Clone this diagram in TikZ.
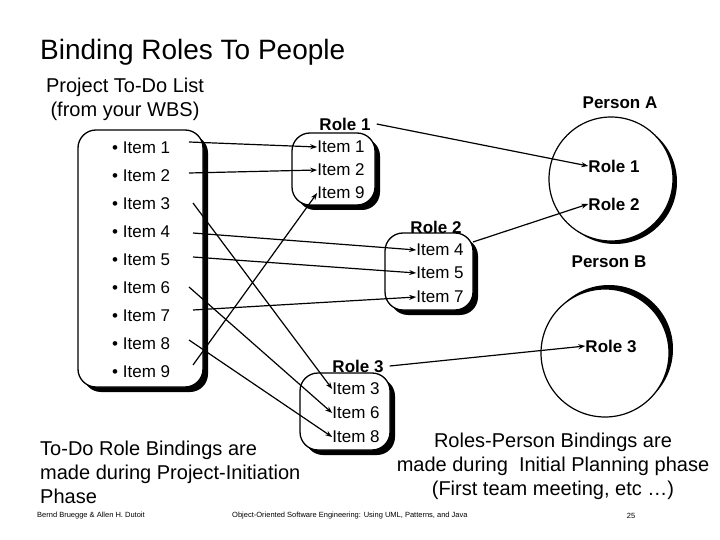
\documentclass[tikz,border=0pt]{standalone}
\usepackage{fontspec}
\setmainfont{Liberation Sans}
\usetikzlibrary{arrows.meta}
\begin{document}
\begin{tikzpicture}[x=1pt,y=-1pt,
  box/.style={draw,line width=1.3pt,rounded corners=18pt,fill=white},
  shad/.style={fill=black,rounded corners=18pt},
  it/.style={font=\fontsize{17}{17}\selectfont,inner sep=0pt},
  bl/.style={font=\fontsize{17}{17}\selectfont\bfseries,inner sep=0pt},
  arr/.style={line width=1.2pt,-{Stealth[length=7pt,width=5pt]}},
  captxt/.style={font=\fontsize{20}{24}\selectfont,align=center,inner sep=0pt}]
\useasboundingbox (0,0) rectangle (720,540);
% title
\node[anchor=west,inner sep=0pt,font=\fontsize{28}{28}\selectfont] (title) at (40,52) {Binding Roles To People};
\node[captxt] (proj) at (125,99) {Project To-Do List\\(from your WBS)};
% big list box
\fill[shad] (83,135) rectangle (208,392);
\draw[box] (78,130) rectangle (203,387);
\foreach \i in {1,...,9} {
  \node[it,anchor=west] (i\i) at (112,120+28*\i) {• Item \i};
}
% role boxes
\fill[shad] (297,138) rectangle (380,210);
\draw[box] (292,133) rectangle (375,205);
\fill[shad] (390,238) rectangle (478,315);
\draw[box] (385,233) rectangle (473,310);
\fill[shad] (305,378) rectangle (395,455);
\draw[box] (300,373) rectangle (390,450);
\node[bl] (r1) at (345,124) {Role 1};
\node[it] (r1a) at (341,147) {Item 1};
\node[it] (r1b) at (341,170) {Item 2};
\node[it] (r1c) at (341,193) {Item 9};
\node[bl] (r2) at (436,227) {Role 2};
\node[it] (r2a) at (440,250) {Item 4};
\node[it] (r2b) at (440,273) {Item 5};
\node[it] (r2c) at (440,297) {Item 7};
\node[bl] (r3) at (358,366) {Role 3};
\node[it] (r3a) at (356,389) {Item 3};
\node[it] (r3b) at (356,413) {Item 6};
\node[it] (r3c) at (356,437) {Item 8};
% persons
\fill (615,182) circle (62);
\fill[white] (611,179) circle (62);
\draw[line width=1.2pt] (611,179) circle (62);
\fill (609,349) circle (64);
\fill[white] (605,353) circle (64);
\draw[line width=1.2pt] (605,353) circle (64);
\node[bl] (pa) at (620,103) {Person A};
\node[bl] (pa1) at (614,166) {Role 1};
\node[bl] (pa2) at (614,204) {Role 2};
\node[bl] (pb) at (609,262) {Person B};
\node[bl] (pb3) at (611,346) {Role 3};
% item arrows
\coordinate (s1) at (189,142); \coordinate (s2) at (189,173); \coordinate (s3) at (193,203);
\coordinate (s4) at (193,233); \coordinate (s5) at (193,257); \coordinate (s6) at (189,287);
\coordinate (s7) at (193,310); \coordinate (s8) at (189,340); \coordinate (s9) at (193,365);
\draw[arr] (s1) -- (r1a.west);
\draw[arr] (s2) -- (r1b.west);
\draw[arr] (s9) -- (r1c.west);
\draw[arr] (s4) -- (r2a.west);
\draw[arr] (s5) -- (r2b.west);
\draw[arr] (s7) -- (r2c.west);
\draw[arr] (s3) -- (r3a.west);
\draw[arr] (s6) -- (r3b.west);
\draw[arr] (s8) -- (r3c.west);
% role arrows
\coordinate (r2o) at (473,242);
\draw[arr] ([xshift=6pt]r1.east) -- (pa1.west);
\draw[arr] (r2o) -- (pa2.west);
\draw[arr] ([xshift=6pt]r3.east) -- (pb3.west);
% captions
\node[captxt,align=left,anchor=north west] (c1) at (40,441) {To-Do Role Bindings are\\made during Project-Initiation\\Phase};
\node[captxt] (c2) at (553,466) {Roles-Person Bindings are\\made during\ \ Initial Planning phase\\(First team meeting, etc …)};
\node[anchor=west,inner sep=0pt,font=\fontsize{7.5}{7.5}\selectfont] (f1) at (37,516) {Bernd Bruegge \& Allen H. Dutoit};
\node[anchor=west,inner sep=0pt,font=\fontsize{7.5}{7.5}\selectfont] (f2) at (232,516) {Object-Oriented Software Engineering: Using UML, Patterns, and Java};
\node[inner sep=0pt,font=\fontsize{7.5}{7.5}\selectfont] (f3) at (631,516) {25};
\end{tikzpicture}
\end{document}
